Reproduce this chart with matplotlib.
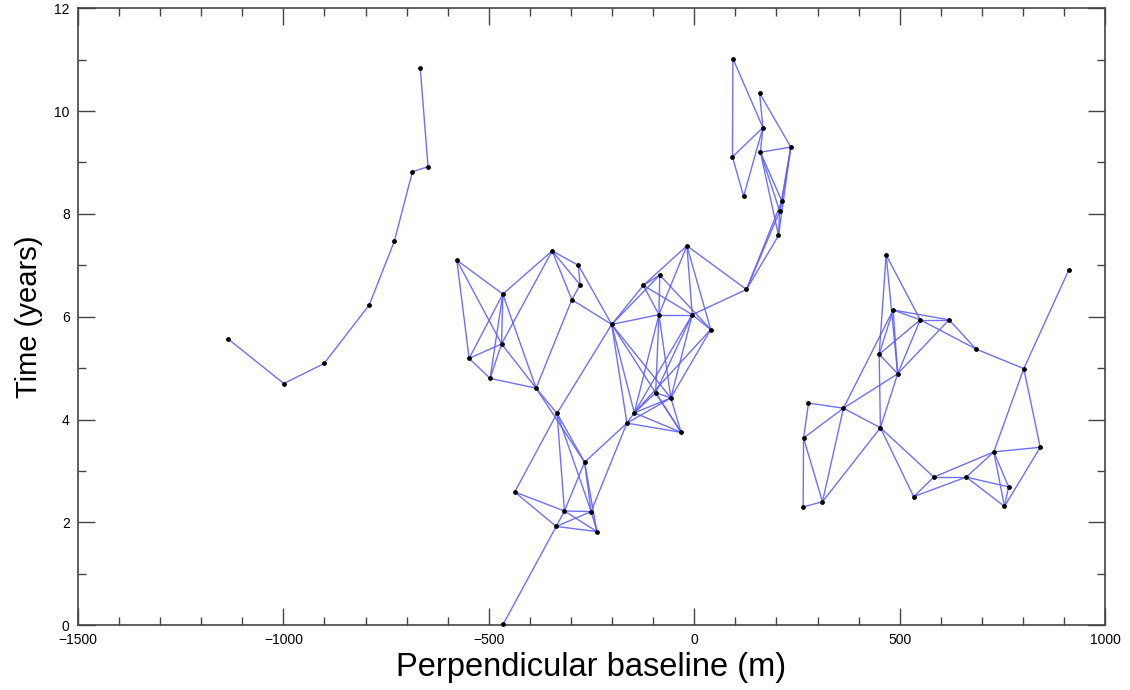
import matplotlib
matplotlib.use("Agg")
import matplotlib.pyplot as plt
from matplotlib.ticker import MultipleLocator

plt.rcParams['font.family'] = ['Liberation Sans', 'DejaVu Sans']

# Acquisition nodes: perpendicular baseline (m) and time (years)
baseline = [
    -667, -648, -686, -730, -791, -901, -999, -1135,           # 0-7 left chain
    -578, -346, -282, -278, -298, -466, -469, -548, -497, -385, # 8-17
    -201, -334, -267, -437, -316, -251, -336, -237, -465,       # 18-26
    -164, -146, -94, -57, -32,                                   # 27-31
    -18, -84, -124, -86, -5, 40, 127,                            # 32-38
    94, 159, 167, 93, 161, 235, 120, 213, 208, 205,              # 39-48
    467, 484, 550, 620, 686, 450, 495, 363, 278, 453,            # 49-58
    266, 265, 312, 583, 534, 662,                                # 59-64
    911, 802, 842, 729, 765, 755,                                # 65-70
]
time_years = [
    10.84, 8.92, 8.82, 7.47, 6.23, 5.09, 4.70, 5.57,
    7.10, 7.28, 7.00, 6.62, 6.33, 6.44, 5.47, 5.19, 4.80, 4.61,
    5.85, 4.12, 3.17, 2.59, 2.22, 2.21, 1.92, 1.82, 0.02,
    3.93, 4.13, 4.52, 4.42, 3.75,
    7.38, 6.81, 6.61, 6.04, 6.04, 5.75, 6.53,
    11.02, 10.35, 9.68, 9.11, 9.20, 9.30, 8.34, 8.25, 8.05, 7.58,
    7.20, 6.13, 5.94, 5.94, 5.37, 5.27, 4.89, 4.22, 4.32, 3.84,
    3.64, 2.30, 2.40, 2.88, 2.50, 2.88,
    6.90, 4.99, 3.46, 3.37, 2.69, 2.31,
]

# Interferometric pairs (index pairs into the node lists)
pairs = [
    (0, 1), (1, 2), (2, 3), (3, 4), (4, 5), (5, 6), (6, 7),
    (8, 13), (8, 15), (8, 14), (9, 13), (13, 14), (13, 15), (13, 16), (13, 17),
    (9, 14), (14, 15), (14, 16), (14, 17), (15, 16), (16, 17), (12, 17),
    (9, 10), (9, 11), (9, 12), (10, 11), (11, 12), (10, 18), (12, 18),
    (17, 19), (17, 20), (19, 20), (19, 18), (19, 21), (19, 22), (19, 23),
    (20, 27), (20, 22), (20, 23), (20, 25), (27, 23), (21, 22), (21, 24),
    (22, 23), (22, 24), (22, 25), (24, 23), (24, 25), (23, 25), (26, 24),
    (18, 34), (18, 33), (18, 35), (18, 27), (18, 28), (18, 30), (18, 31),
    (34, 32), (34, 35), (34, 36), (33, 35), (33, 37), (33, 34),
    (32, 35), (32, 36), (32, 37), (32, 38), (35, 36), (36, 38), (36, 37),
    (35, 29), (35, 30), (35, 28), (36, 28), (36, 29), (36, 30), (37, 30), (37, 28),
    (28, 29), (28, 30), (27, 28), (27, 30), (27, 31), (28, 31), (29, 30), (29, 31), (30, 31),
    (39, 42), (39, 41), (40, 41), (40, 44), (42, 41), (42, 45), (45, 41), (41, 43),
    (43, 44), (43, 46), (43, 47), (43, 48), (44, 46), (44, 47), (44, 48),
    (46, 47), (47, 48), (38, 48), (38, 47), (38, 46),
    (49, 54), (49, 55), (49, 51), (50, 51), (50, 52), (50, 54), (50, 56), (50, 55),
    (51, 52), (51, 53), (51, 54), (51, 55), (52, 53), (52, 55),
    (54, 55), (54, 58), (55, 58), (55, 56), (56, 57), (56, 58), (56, 59), (56, 61),
    (57, 59), (59, 60), (59, 61), (60, 61), (61, 58), (58, 62), (58, 63),
    (63, 62), (63, 64), (62, 64), (53, 66), (65, 66), (66, 68), (66, 67),
    (67, 68), (67, 70), (68, 69), (68, 70), (69, 70), (62, 68), (64, 68),
    (64, 69), (64, 70),
]

x_ticks = [-1500, -1000, -500, 0, 500, 1000]
y_ticks = [0, 2, 4, 6, 8, 10, 12]

fig = plt.figure(figsize=(11.3, 6.9), dpi=100)
ax = fig.add_axes([0.069, 0.094, 0.909, 0.894])

for i, j in pairs:
    ax.plot([baseline[i], baseline[j]], [time_years[i], time_years[j]],
            color=(0.38, 0.38, 0.95), lw=1.0, alpha=0.9, zorder=2, clip_on=False)
ax.scatter(baseline, time_years, s=6, color='black', zorder=3, clip_on=False)

ax.set_xlim(-1500, 1000)
ax.set_ylim(0, 12)
ax.set_xticks(x_ticks)
ax.set_yticks(y_ticks)
ax.xaxis.set_minor_locator(MultipleLocator(100))
ax.yaxis.set_minor_locator(MultipleLocator(1))
ax.tick_params(which='major', direction='in', length=12, width=1, top=True, right=True,
               labelsize=10, color='#444444', pad=6)
ax.tick_params(which='minor', direction='in', length=6, width=1, top=True, right=True,
               color='#444444')
for s in ax.spines.values():
    s.set_color('#444444')
    s.set_linewidth(1.2)

ax.set_xlabel('Perpendicular baseline (m)', fontsize=23.5, labelpad=3)
ax.set_ylabel('Time (years)', fontsize=21, labelpad=8)

fig.savefig('out.png', dpi=100)
